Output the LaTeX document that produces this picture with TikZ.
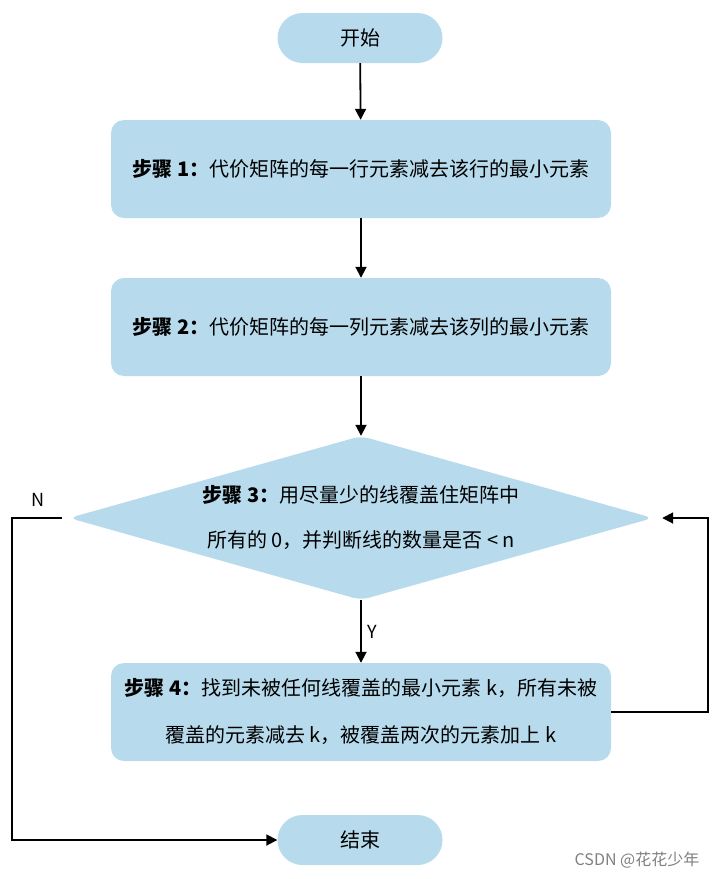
\documentclass[tikz,border=0pt]{standalone}
\usepackage{fontspec}
\setmainfont{Noto Sans CJK SC}
\usepackage{xcolor}
\usepackage{tikz}
\usetikzlibrary{shapes.geometric,arrows.meta,positioning}
\tikzset{>={Triangle[length=11pt,width=11pt]}}
\definecolor{boxblue}{RGB}{183,219,237}

\begin{document}
\begin{tikzpicture}[x=1pt,y=-1pt,
                    stepbox/.style={fill=boxblue, rounded corners=13pt, minimum width=500pt,
                                    minimum height=98pt, align=center, font=\fontsize{20}{47}\selectfont},
                    endbox/.style={fill=boxblue, rounded corners=25pt, minimum width=165pt,
                                   minimum height=50pt, font=\fontsize{20}{23}\selectfont},
                    decide/.style={diamond, fill=boxblue, rounded corners=8pt, minimum width=584pt,
                                   minimum height=164pt, inner sep=0pt},
                    flow/.style={line width=1.8pt, black, ->},
                   ]

\useasboundingbox (0,0) rectangle (720,879);

\node[endbox] (start) at (360,38) {开始};
\node[stepbox] (s1) at (361,169) {\textbf{步骤 1：}代价矩阵的每一行元素减去该行的最小元素};
\node[stepbox] (s2) at (361,327) {\textbf{步骤 2：}代价矩阵的每一列元素减去该列的最小元素};
\node[decide] (s3) at (361,518) {};
\node[align=center, font=\fontsize{20}{45}\selectfont] (s3text) at (s3.center)
    {\textbf{步骤 3：}用尽量少的线覆盖住矩阵中\\所有的 0，并判断线的数量是否 < n};
\node[stepbox] (s4) at (361,712) {\textbf{步骤 4：}找到未被任何线覆盖的最小元素 k，所有未被\\覆盖的元素减去 k，被覆盖两次的元素加上 k};
\node[endbox] (stop) at (360,840) {结束};

\coordinate (nout) at ([xshift=-7pt]s3.west);
\coordinate (yin) at ([xshift=9pt]s3.east);

\draw[flow] (start) -- (s1);
\draw[flow] (s1) -- (s2);
\draw[flow] (s2) -- (s3);
\draw[flow] (s3) -- node[right, font=\fontsize{18}{21}\selectfont, xshift=2pt] (ylab) {Y} (s4);
\draw[flow] (s4.east) -| (708,518) -- (yin);
\draw[flow] (nout) -| (12,840) -- (stop.west);
\node[font=\fontsize{18}{21}\selectfont] (nlab) at (38,500) {N};

\node[text=gray, font=\fontsize{16}{18}\selectfont] (mark) at (637,860) {CSDN @花花少年};

\end{tikzpicture}
\end{document}
